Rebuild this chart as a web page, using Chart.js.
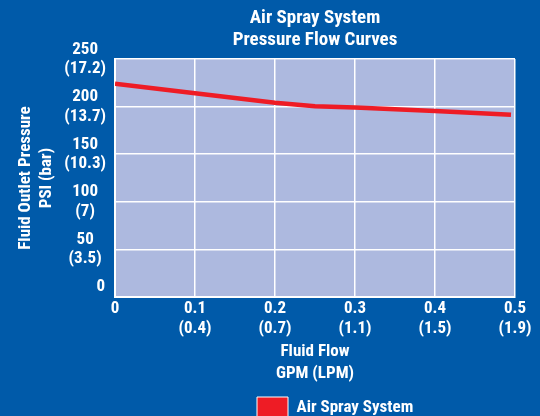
<!DOCTYPE html>
<html>
<head>
<meta charset="utf-8">
<script src="https://cdn.jsdelivr.net/npm/chart.js@4.4.1/dist/chart.umd.min.js"></script>
<style>
  html, body { margin: 0; padding: 0; background: #005aa9; }
  #wrap { width: 540px; height: 416px; }
</style>
</head>
<body>
<div id="wrap"><canvas id="chart" width="540" height="416"></canvas></div>
<script>
// data
const flowGpm = [0, 0.1, 0.2, 0.25, 0.3, 0.4, 0.495];
const pressurePsi = [224, 214, 204, 200.5, 199, 195.5, 191.5];

// axis ticks (psi / bar, gpm / lpm)
const psiTicks = [0, 50, 100, 150, 200, 250];
const barLabels = ['', '(3.5)', '(7)', '(10.3)', '(13.7)', '(17.2)'];
const gpmTicks = [0, 0.1, 0.2, 0.3, 0.4, 0.5];
const lpmLabels = ['', '(0.4)', '(0.7)', '(1.1)', '(1.5)', '(1.9)'];

const FAMILY = "Roboto, 'DejaVu Sans', sans-serif";
const BOLD = 'bold condensed';
const WHITE = '#ffffff';

// light plot background
const plotBg = {
    id: 'plotBg',
    beforeDraw(chart) {
        const { ctx, chartArea: a } = chart;
        ctx.save();
        ctx.fillStyle = '#adb9df';
        ctx.fillRect(a.left, a.top, a.width, a.height);
        ctx.restore();
    }
};

// legend sits low and slightly right of center
const legendSpot = {
    id: 'legendSpot',
    afterLayout(chart) {
        const lg = chart.legend;
        const h = lg.bottom - lg.top;
        lg.left = 253;
        lg.right = 540;
        lg.top = 393;
        lg.bottom = lg.top + h;
    }
};

new Chart(document.getElementById('chart'), {
    type: 'line',
    data: {
        datasets: [{
            label: 'Air Spray System',
            data: flowGpm.map((x, i) => ({ x, y: pressurePsi[i] })),
            borderColor: '#ee1c25',
            backgroundColor: '#ee1c25',
            borderWidth: 4.5,
            pointRadius: 0,
            tension: 0
        }]
    },
    options: {
        responsive: false,
        animation: false,
        layout: { padding: { left: 0, right: 25, top: 0, bottom: 0 } },
        plugins: {
            title: {
                display: true,
                fullSize: false,
                text: ['Air Spray System', 'Pressure Flow Curves'],
                color: WHITE,
                font: { family: FAMILY, size: 19, weight: BOLD, lineHeight: 1.16 },
                padding: { top: 7, bottom: 8 }
            },
            legend: {
                position: 'bottom',
                align: 'start',
                fullSize: false,
                maxHeight: 30,
                labels: {
                    color: WHITE,
                    boxWidth: 31,
                    boxHeight: 22,
                    padding: 4,
                    font: { family: FAMILY, size: 17, weight: BOLD },
                    generateLabels: (chart) => chart.data.datasets.map((ds, i) => ({
                        text: ds.label,
                        fillStyle: ds.borderColor,
                        strokeStyle: WHITE,
                        lineWidth: 1,
                        fontColor: WHITE,
                        hidden: false,
                        datasetIndex: i
                    }))
                }
            },
            tooltip: { enabled: false }
        },
        scales: {
            x: {
                type: 'linear',
                min: 0,
                max: 0.5,
                afterFit: (scale) => { scale.height = 89; },
                grid: { color: WHITE, lineWidth: 1.5, drawTicks: false },
                border: { display: true, color: WHITE, width: 2 },
                ticks: {
                    stepSize: 0.1,
                    padding: 1,
                    color: WHITE,
                    maxRotation: 0,
                    font: { family: FAMILY, size: 17, weight: BOLD, lineHeight: 1.22 },
                    callback: (value) => {
                        const i = Math.round(value * 10);
                        if (i === 0) return ['0', ''];
                        return [String(gpmTicks[i]), lpmLabels[i]];
                    }
                },
                title: {
                    display: true,
                    text: ['Fluid Flow', 'GPM (LPM)'],
                    color: WHITE,
                    font: { family: FAMILY, size: 17, weight: BOLD, lineHeight: 1.3 },
                    padding: { top: 0, bottom: 1 }
                }
            },
            y: {
                min: 0,
                max: 250,
                afterFit: (scale) => { scale.width = 115; },
                grid: { color: WHITE, lineWidth: 1.5, drawTicks: false },
                border: { display: true, color: WHITE, width: 2 },
                ticks: {
                    stepSize: 50,
                    padding: 9,
                    color: WHITE,
                    crossAlign: 'center',
                    font: { family: FAMILY, size: 17, weight: BOLD, lineHeight: 1.15 },
                    callback: (value) => {
                        const i = psiTicks.indexOf(value);
                        if (i < 0) return '';
                        if (i === 0) return ['        0', ''];
                        return [String(value), barLabels[i]];
                    }
                },
                title: {
                    display: true,
                    text: ['Fluid Outlet Pressure', 'PSI (bar)'],
                    color: WHITE,
                    font: { family: FAMILY, size: 17, weight: BOLD, lineHeight: 1.24 },
                    padding: { top: 15, bottom: 0 }
                }
            }
        }
    },
    plugins: [plotBg, legendSpot]
});
</script>
</body>
</html>
